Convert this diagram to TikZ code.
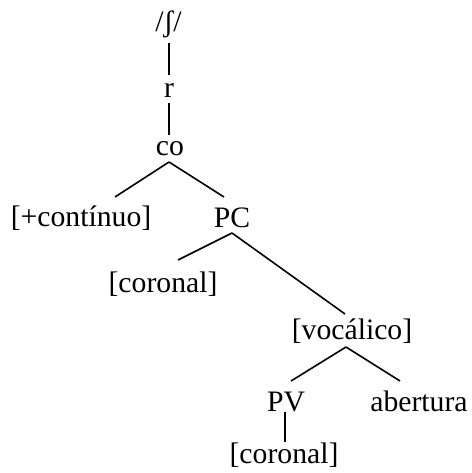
\documentclass[tikz,border=0pt]{standalone}
\usepackage{fontspec}
\setmainfont{Liberation Serif}
\begin{document}
\begin{tikzpicture}[x=1pt,y=-1pt,
  lbl/.style={anchor=base,inner sep=0pt,font=\fontsize{29.7}{32}\selectfont},
  edge/.style={line width=1.6pt}]
\useasboundingbox (0,0) rectangle (471,473);
\node[lbl] (sh) at (168.5,32) {/ʃ/};
\node[lbl] (r) at (169,98) {r};
\node[lbl] (co) at (170,155) {co};
\node[lbl] (cont) at (81,226) {[+contínuo]};
\node[lbl] (pc) at (232,227) {PC};
\node[lbl] (cor1) at (163,292) {[coronal]};
\node[lbl] (voc) at (352,339) {[vocálico]};
\node[lbl] (pv) at (286,411) {PV};
\node[lbl] (ab) at (419,411) {abertura};
\node[lbl] (cor2) at (284,463) {[coronal]};
% connector end points
\coordinate (sh-b) at (169,43);
\coordinate (r-t) at (169,75);
\coordinate (r-b) at (169,103);
\coordinate (co-t) at (169,135);
\coordinate (co-b) at (169,162);
\coordinate (cont-t) at (115,197);
\coordinate (pc-t) at (224,197);
\coordinate (pc-b) at (232,233);
\coordinate (cor1-t) at (178,260);
\coordinate (voc-t) at (345,314);
\coordinate (voc-b) at (346,347);
\coordinate (pv-t) at (291,381);
\coordinate (ab-t) at (400,381);
\coordinate (pv-b) at (285,412);
\coordinate (cor2-t) at (285,442);
\draw[edge] (sh-b) -- (r-t);
\draw[edge] (r-b) -- (co-t);
\draw[edge] (co-b) -- (cont-t);
\draw[edge] (co-b) -- (pc-t);
\draw[edge] (pc-b) -- (cor1-t);
\draw[edge] (pc-b) -- (voc-t);
\draw[edge] (voc-b) -- (pv-t);
\draw[edge] (voc-b) -- (ab-t);
\draw[edge] (pv-b) -- (cor2-t);
\end{tikzpicture}
\end{document}
